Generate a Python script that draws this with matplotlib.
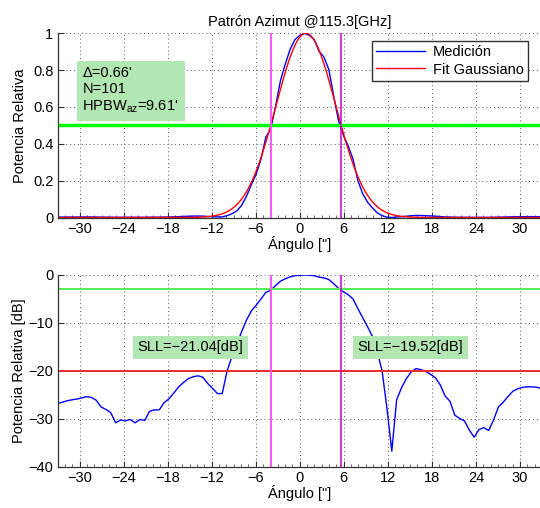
import numpy as np
import matplotlib
matplotlib.use("Agg")
import matplotlib.pyplot as plt
from matplotlib.ticker import MultipleLocator

plt.rcParams['font.family'] = ['Liberation Sans', 'DejaVu Sans']
plt.rcParams['mathtext.fontset'] = 'custom'
plt.rcParams['mathtext.rm'] = 'Liberation Sans'
plt.rcParams['mathtext.it'] = 'Liberation Sans'

# Scan parameters
step_deg = 0.66
n_points = 101
start_deg = -33.0
hpbw = 9.61
fit_center = 0.84
sll_left = -21.04
sll_right = -19.52

# Measured azimuth pattern, relative power in dB (one value per scan position)
power_db = [
    -26.8, -26.5, -26.2, -26.0, -25.85, -25.6, -25.35, -25.5, -26.1, -27.5,
    -28.0, -28.7, -30.8, -30.2, -30.4, -30.1, -30.8, -30.1, -30.3, -28.4,
    -28.1, -28.1, -26.6, -25.8, -24.6, -23.3, -22.4, -21.6, -21.2, -21.0,
    -21.3, -22.6, -23.6, -24.7, -24.7, -20.0, -17.0, -14.5, -11.8, -9.4,
    -7.5, -6.3, -5.0, -3.6, -3.2, -2.2, -1.3, -0.8, -0.4, -0.15,
    -0.05, 0.0, -0.05, -0.15, -0.45, -0.6, -0.95, -1.8, -2.8, -3.5,
    -4.1, -5.0, -7.0, -8.9, -10.8, -12.8, -16.0, -20.0, -27.8, -36.7,
    -26.0, -23.5, -21.6, -20.2, -19.5, -19.7, -20.1, -20.7, -21.4, -22.9,
    -25.2, -26.3, -29.2, -29.9, -30.4, -32.3, -33.8, -32.2, -31.8, -32.4,
    -30.2, -27.5, -26.5, -25.3, -24.2, -23.7, -23.4, -23.3, -23.3, -23.4,
    -23.7,
]

x_ticks = [-30, -24, -18, -12, -6, 0, 6, 12, 18, 24, 30]
y_ticks_lin = [0, 0.2, 0.4, 0.6, 0.8, 1]
y_ticks_db = [-40, -30, -20, -10, 0]

angles = start_deg + step_deg * np.arange(n_points)
power_db = np.array(power_db)
power_lin = 10 ** (power_db / 10)

# Gaussian fit described by its centre and half-power beam width
x_fit = np.linspace(start_deg, -start_deg, 600)
fit_lin = np.exp(-4 * np.log(2) * (x_fit - fit_center) ** 2 / hpbw ** 2)
half_left = fit_center - hpbw / 2
half_right = fit_center + hpbw / 2

fig = plt.figure(figsize=(5.4, 5.08), dpi=100)
W, H = 540, 508
left_px, right_px = 57.5, 542.0
ax1 = fig.add_axes([left_px / W, 1 - 217.5 / H, (right_px - left_px) / W, 184.2 / H])
ax2 = fig.add_axes([left_px / W, 1 - 467.0 / H, (right_px - left_px) / W, 192.0 / H])

fs = 10.5
box_color = '#b2e6b2'


def fmt_minus(s):
    return s.replace('-', '\u2212')


def style(ax):
    ax.set_xlim(start_deg, -start_deg)
    ax.set_xticks(x_ticks)
    ax.xaxis.set_minor_locator(MultipleLocator(1))
    ax.grid(True, which='major', linestyle=(0, (1, 3)), color='#555555', linewidth=0.7)
    for side in ('top', 'right'):
        ax.spines[side].set_visible(False)
    for side in ('left', 'bottom'):
        ax.spines[side].set_color('#333333')
        ax.spines[side].set_linewidth(0.9)
    ax.tick_params(which='major', direction='in', length=4, labelsize=fs, colors='#333333',
                   labelcolor='black', pad=3)
    ax.tick_params(which='minor', direction='in', length=2, colors='#555555')
    ax.tick_params(axis='y', which='minor', length=0)
    ax.set_xlabel('Ángulo ["]', fontsize=fs, labelpad=0)


# Linear pattern
ax1.plot(angles, power_lin, color='#0000ff', lw=1.0, label='Medición')
ax1.plot(x_fit, fit_lin, color='#ff0000', lw=1.0, label='Fit Gaussiano')
ax1.axhline(0.5, color='#00ff00', lw=2.5)
ax1.axvline(half_left, color='#ff55ff', lw=1.4)
ax1.axvline(half_right, color='#cc00cc', lw=1.1)
ax1.set_ylim(0, 1)
ax1.set_yticks(y_ticks_lin)
ax1.set_yticklabels(['0', '0.2', '0.4', '0.6', '0.8', '1'])
style(ax1)
ax1.set_ylabel('Potencia Relativa', fontsize=fs, labelpad=4)
ax1.set_title('Patrón Azimut @115.3[GHz]', fontsize=fs, pad=5)
ax1.text(-29.6, 0.69, "Δ=%.2f'\nN=%d\nHPBW$_{az}$=%.2f'" % (step_deg, n_points, hpbw),
         fontsize=fs, ha='left', va='center', linespacing=1.2,
         bbox=dict(boxstyle='square,pad=0.4', facecolor=box_color, edgecolor='none'))
leg = ax1.legend(loc='upper right', bbox_to_anchor=(528 / W, 1 - 40.5 / H),
                 bbox_transform=fig.transFigure, fontsize=fs, frameon=True, fancybox=False,
                 borderaxespad=0, handlelength=3.4, borderpad=0.3, labelspacing=0.25,
                 handletextpad=0.5)
leg.get_frame().set_edgecolor('black')
leg.get_frame().set_linewidth(1.0)

# Pattern in dB
ax2.plot(angles, power_db, color='#0000ff', lw=1.0)
ax2.axhline(-3, color='#55ee55', lw=1.4)
ax2.axhline(-20, color='#ee2a2a', lw=1.4)
ax2.axvline(half_left, color='#ff55ff', lw=1.4)
ax2.axvline(half_right, color='#cc00cc', lw=1.1)
ax2.set_ylim(-40, 0)
ax2.set_yticks(y_ticks_db)
style(ax2)
ax2.set_ylabel('Potencia Relativa [dB]', fontsize=fs, labelpad=2)
ax2.text(-14.9, -15.1, fmt_minus('SLL=%.2f[dB]' % sll_left), fontsize=fs, ha='center',
         va='center', bbox=dict(boxstyle='square,pad=0.3', facecolor=box_color, edgecolor='none'))
ax2.text(15.1, -15.1, fmt_minus('SLL=%.2f[dB]' % sll_right), fontsize=fs, ha='center',
         va='center', bbox=dict(boxstyle='square,pad=0.3', facecolor=box_color, edgecolor='none'))

fig.savefig('out.png', dpi=100)
